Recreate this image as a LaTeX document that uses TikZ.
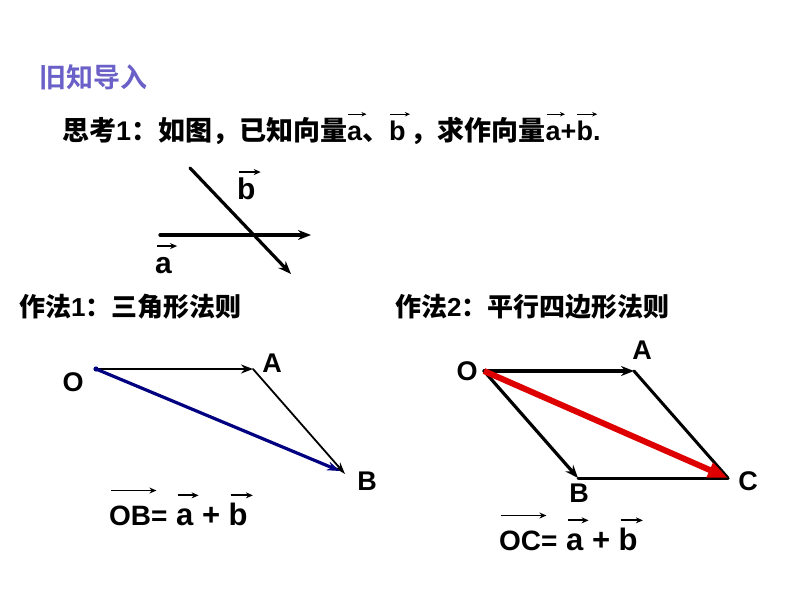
\documentclass[tikz,border=0pt]{standalone}
\usepackage{fontspec}
\setmainfont{Liberation Sans}
\newfontfamily\cjk{Noto Sans CJK SC Bold}
\usepackage{tikz}
\usepackage{tkz-euclide}
\usetikzlibrary{arrows.meta}
\definecolor{titleblue}{RGB}{106,96,200}
\definecolor{sumblue}{RGB}{0,0,128}
\definecolor{sumred}{RGB}{222,0,0}
\tikzset{
    thinarrow/.style={overlay,line width=1pt,-{Stealth[length=5pt,width=4.5pt]}},
    bigarrow/.style={overlay,line width=1.8pt,-{Stealth[length=7pt,width=6pt]}}}
% letters with an arrow above them
\newcommand{\vect}[1]{\tikz[baseline=(v.base)]{\node[inner sep=0pt] (v) {#1\vphantom{b}};%
    \draw[thinarrow] ([yshift=7pt,xshift=1pt]v.north west) -- ([yshift=7pt,xshift=4pt]v.north east);}}
\newcommand{\bvect}[2][10pt]{\tikz[baseline=(v.base)]{\node[inner sep=0pt] (v) {#2\vphantom{b}};%
    \draw[bigarrow] ([yshift=#1,xshift=2pt]v.north west) -- ([yshift=#1,xshift=5pt]v.north east);}}
\newcommand{\sumab}{{\fontsize{31}{34}\selectfont\ \bvect[7pt]{a} + \bvect[7pt]{b}}}

\begin{document}
\begin{tikzpicture}[x=1pt,y=-1pt,
    bigtext/.style={font=\bfseries\fontsize{26}{30}\selectfont,inner sep=0pt},
    ptlabel/.style={font=\bfseries\fontsize{27}{30}\selectfont},
    vecline/.style={line width=3.2pt,-{Stealth[length=13pt,width=10pt]}},
    thinvec/.style={line width=1.8pt,-{Stealth[length=12pt,width=8pt]}}]
    \useasboundingbox (0,0) rectangle (794,596);
    % headings
    \node[anchor=west,font=\cjk\fontsize{27}{30}\selectfont,text=titleblue] (title) at (36,77) {旧知导入};
    \node[anchor=base west,bigtext,font=\bfseries\fontsize{27}{30}\selectfont] (think) at (62,141) {{\cjk 思考}1{\cjk ：如图，已知向量}\vect{a}{\cjk 、}\vect{b}\hspace{5pt}{\cjk ，求作向量}\vect{a}+\vect{b}.};
    \node[anchor=west,bigtext] (way1) at (19,307) {{\cjk 作法}1{\cjk ：三角形法则}};
    \node[anchor=west,bigtext] (way2) at (395,307) {{\cjk 作法}2{\cjk ：平行四边形法则}};
    % the two vectors
    \tkzDefPoint(160,235){a1}
    \tkzDefPoint(311,235){a2}
    \tkzDefPoint(190,168){b1}
    \tkzDefPoint(291,274){b2}
    \tkzDrawSegments[vecline](a1,a2 b1,b2)
    \node[anchor=base west,bigtext,font=\bfseries\fontsize{30}{32}\selectfont] (veca) at (155,273) {\bvect[5pt]{a}};
    \node[anchor=base west,bigtext,font=\bfseries\fontsize{30}{32}\selectfont] (vecb) at (237,199) {\bvect[5pt]{b}};
    % triangle rule
    \tkzDefPoint(96,369){O1}
    \tkzDefPoint(253,369){A1}
    \tkzDefPoint(345,474){B1}
    \tkzDrawSegment[line width=2.6pt,-{Stealth[length=12pt,width=9pt]}](O1,A1)
    \tkzDrawSegment[thinvec](A1,B1)
    \draw[sumblue,line width=3.2pt,-{Stealth[length=13pt,width=9pt]}] (O1) -- ($(B1)+(-5,-3)$);
    \fill[sumblue] (O1) circle (2.6);
    \node[ptlabel] (labO1) at (73,382) {O};
    \node[ptlabel] (labA1) at (272,363) {A};
    \node[ptlabel] (labB1) at (367,481) {B};
    \node[anchor=base west,bigtext,font=\bfseries\fontsize{28}{30}\selectfont] (sum1) at (109,525) {\bvect[14pt]{OB}=\sumab};
    % parallelogram rule
    \tkzDefPoint(484,371){O2}
    \tkzDefPoint(634,371){A2}
    \tkzDefPoint(578,478){B2}
    \tkzDefPoint(728,478){C2}
    \tkzDrawSegments[vecline](O2,A2 O2,B2)
    \tkzDrawSegments[line width=3pt](B2,C2 A2,C2)
    \draw[sumred,line width=6pt,-{Triangle[length=20pt,width=15pt]}] (O2) -- (C2);
    \node[ptlabel] (labO2) at (467,371) {O};
    \node[ptlabel] (labA2) at (642,350) {A};
    \node[ptlabel] (labB2) at (579,493) {B};
    \node[ptlabel] (labC2) at (748,481) {C};
    \node[anchor=base west,bigtext,font=\bfseries\fontsize{28}{30}\selectfont] (sum2) at (499,550) {\bvect[14pt]{OC}=\sumab};
\end{tikzpicture}
\end{document}
